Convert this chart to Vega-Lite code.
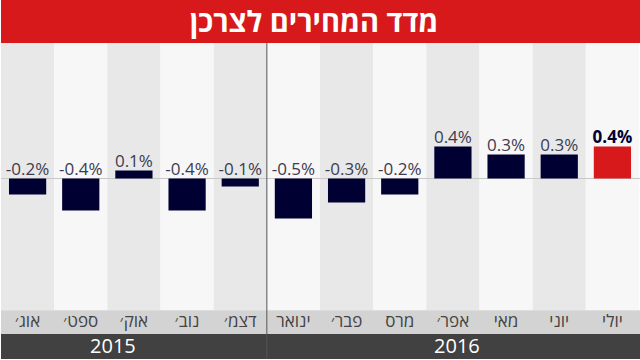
{
  "$schema": "https://vega.github.io/schema/vega-lite/v6.json",
  "width": 640,
  "height": 360,
  "padding": 0,
  "autosize": {"type": "fit", "contains": "padding"},
  "background": "#ffffff",
  "config": {"view": {"stroke": null}},
  "data": {
    "values": [
      {"month": "אוג׳", "value": -0.2, "year": 2015},
      {"month": "ספט׳", "value": -0.4, "year": 2015},
      {"month": "אוק׳", "value": 0.1, "year": 2015},
      {"month": "נוב׳", "value": -0.4, "year": 2015},
      {"month": "דצמ׳", "value": -0.1, "year": 2015},
      {"month": "ינואר", "value": -0.5, "year": 2016},
      {"month": "פבר׳", "value": -0.3, "year": 2016},
      {"month": "מרס", "value": -0.2, "year": 2016},
      {"month": "אפר׳", "value": 0.4, "year": 2016},
      {"month": "מאי", "value": 0.3, "year": 2016},
      {"month": "יוני", "value": 0.3, "year": 2016},
      {"month": "יולי", "value": 0.4, "year": 2016}
    ]
  },
  "encoding": {
    "x": {
      "field": "month",
      "type": "nominal",
      "sort": null,
      "axis": null,
      "scale": {"paddingInner": 0, "paddingOuter": 0}
    }
  },
  "layer": [
    {
      "mark": {"type": "rect"},
      "encoding": {
        "y": {"datum": 1.7, "type": "quantitative", "scale": {"domain": [-2.2625, 2.2375], "nice": false, "zero": false}, "axis": null},
        "y2": {"datum": -1.65},
        "fill": {
          "field": "month",
          "type": "nominal",
          "legend": null,
          "scale": {
            "domain": ["אוג׳", "ספט׳", "אוק׳", "נוב׳", "דצמ׳", "ינואר", "פבר׳", "מרס", "אפר׳", "מאי", "יוני", "יולי"],
            "range": ["#e8e8e8", "#f7f7f7", "#e8e8e8", "#f7f7f7", "#e8e8e8", "#f7f7f7", "#e8e8e8", "#f7f7f7", "#e8e8e8", "#f7f7f7", "#e8e8e8", "#f7f7f7"]
          }
        }
      }
    },
    {
      "data": {"values": [{"band": "months"}]},
      "mark": {"type": "rect", "color": "#d3d3d3"},
      "encoding": {
        "x": {"value": 0},
        "x2": {"value": 640},
        "y": {"datum": -1.65, "type": "quantitative"},
        "y2": {"datum": -1.95}
      }
    },
    {
      "data": {"values": [{"band": "years"}]},
      "mark": {"type": "rect", "color": "#414141"},
      "encoding": {
        "x": {"value": 0},
        "x2": {"value": 640},
        "y": {"datum": -1.95, "type": "quantitative"},
        "y2": {"datum": -2.2625}
      }
    },
    {
      "data": {"values": [{"band": "title"}]},
      "mark": {"type": "rect", "color": "#d7191c"},
      "encoding": {
        "x": {"value": 0},
        "x2": {"value": 640},
        "y": {"datum": 2.2375, "type": "quantitative"},
        "y2": {"datum": 1.7}
      }
    },
    {
      "data": {"values": [{"line": "zero"}]},
      "mark": {"type": "rule", "color": "#c8c8c8", "strokeWidth": 1},
      "encoding": {
        "x": {"value": 0},
        "x2": {"value": 640},
        "y": {"datum": 0, "type": "quantitative"}
      }
    },
    {
      "data": {"values": [{"line": "divider"}]},
      "mark": {"type": "rule", "color": "#555555", "strokeWidth": 1},
      "encoding": {
        "x": {"datum": "ינואר", "type": "nominal", "bandPosition": 0},
        "y": {"datum": 1.7, "type": "quantitative"},
        "y2": {"datum": -2.2625}
      }
    },
    {
      "mark": {"type": "bar", "width": {"band": 0.7}},
      "encoding": {
        "y": {"field": "value", "type": "quantitative"},
        "y2": {"datum": 0},
        "color": {
          "condition": {"test": "datum.month === 'יולי'", "value": "#d7191c"},
          "value": "#000033"
        }
      }
    },
    {
      "transform": [
        {"filter": "datum.month !== 'יולי'"},
        {"calculate": "max(datum.value, 0)", "as": "ly"},
        {"calculate": "toString(datum.value) + '%'", "as": "lbl"}
      ],
      "mark": {"type": "text", "baseline": "alphabetic", "dy": -4, "font": "Open Sans", "fontSize": 17, "color": "#3c3c50"},
      "encoding": {
        "y": {"field": "ly", "type": "quantitative"},
        "text": {"field": "lbl"}
      }
    },
    {
      "transform": [
        {"filter": "datum.month === 'יולי'"},
        {"calculate": "max(datum.value, 0)", "as": "ly"},
        {"calculate": "toString(datum.value) + '%'", "as": "lbl"}
      ],
      "mark": {"type": "text", "baseline": "alphabetic", "dy": -4, "font": "Open Sans", "fontSize": 17, "fontWeight": "bold", "color": "#000033"},
      "encoding": {
        "y": {"field": "ly", "type": "quantitative"},
        "text": {"field": "lbl"}
      }
    },
    {
      "mark": {"type": "text", "baseline": "middle", "font": "Open Sans", "fontSize": 17, "color": "#444444"},
      "encoding": {
        "y": {"datum": -1.8, "type": "quantitative"},
        "text": {"field": "month"}
      }
    },
    {
      "data": {"values": [{"year": "2015"}]},
      "mark": {"type": "text", "baseline": "middle", "font": "Open Sans", "fontSize": 20, "color": "#ffffff", "dx": -21},
      "encoding": {
        "x": {"datum": "אוק׳", "type": "nominal"},
        "y": {"datum": -2.106, "type": "quantitative"},
        "text": {"field": "year"}
      }
    },
    {
      "data": {"values": [{"year": "2016"}]},
      "mark": {"type": "text", "baseline": "middle", "font": "Open Sans", "fontSize": 20, "color": "#ffffff", "dx": 4},
      "encoding": {
        "x": {"datum": "אפר׳", "type": "nominal"},
        "y": {"datum": -2.106, "type": "quantitative"},
        "text": {"field": "year"}
      }
    },
    {
      "data": {"values": [{"title": "מדד המחירים לצרכן"}]},
      "mark": {"type": "text", "baseline": "middle", "font": "Open Sans", "fontSize": 29, "fontWeight": "bold", "color": "#ffffff"},
      "encoding": {
        "x": {"value": 313},
        "y": {"datum": 1.95, "type": "quantitative"},
        "text": {"field": "title"}
      }
    }
  ]
}
